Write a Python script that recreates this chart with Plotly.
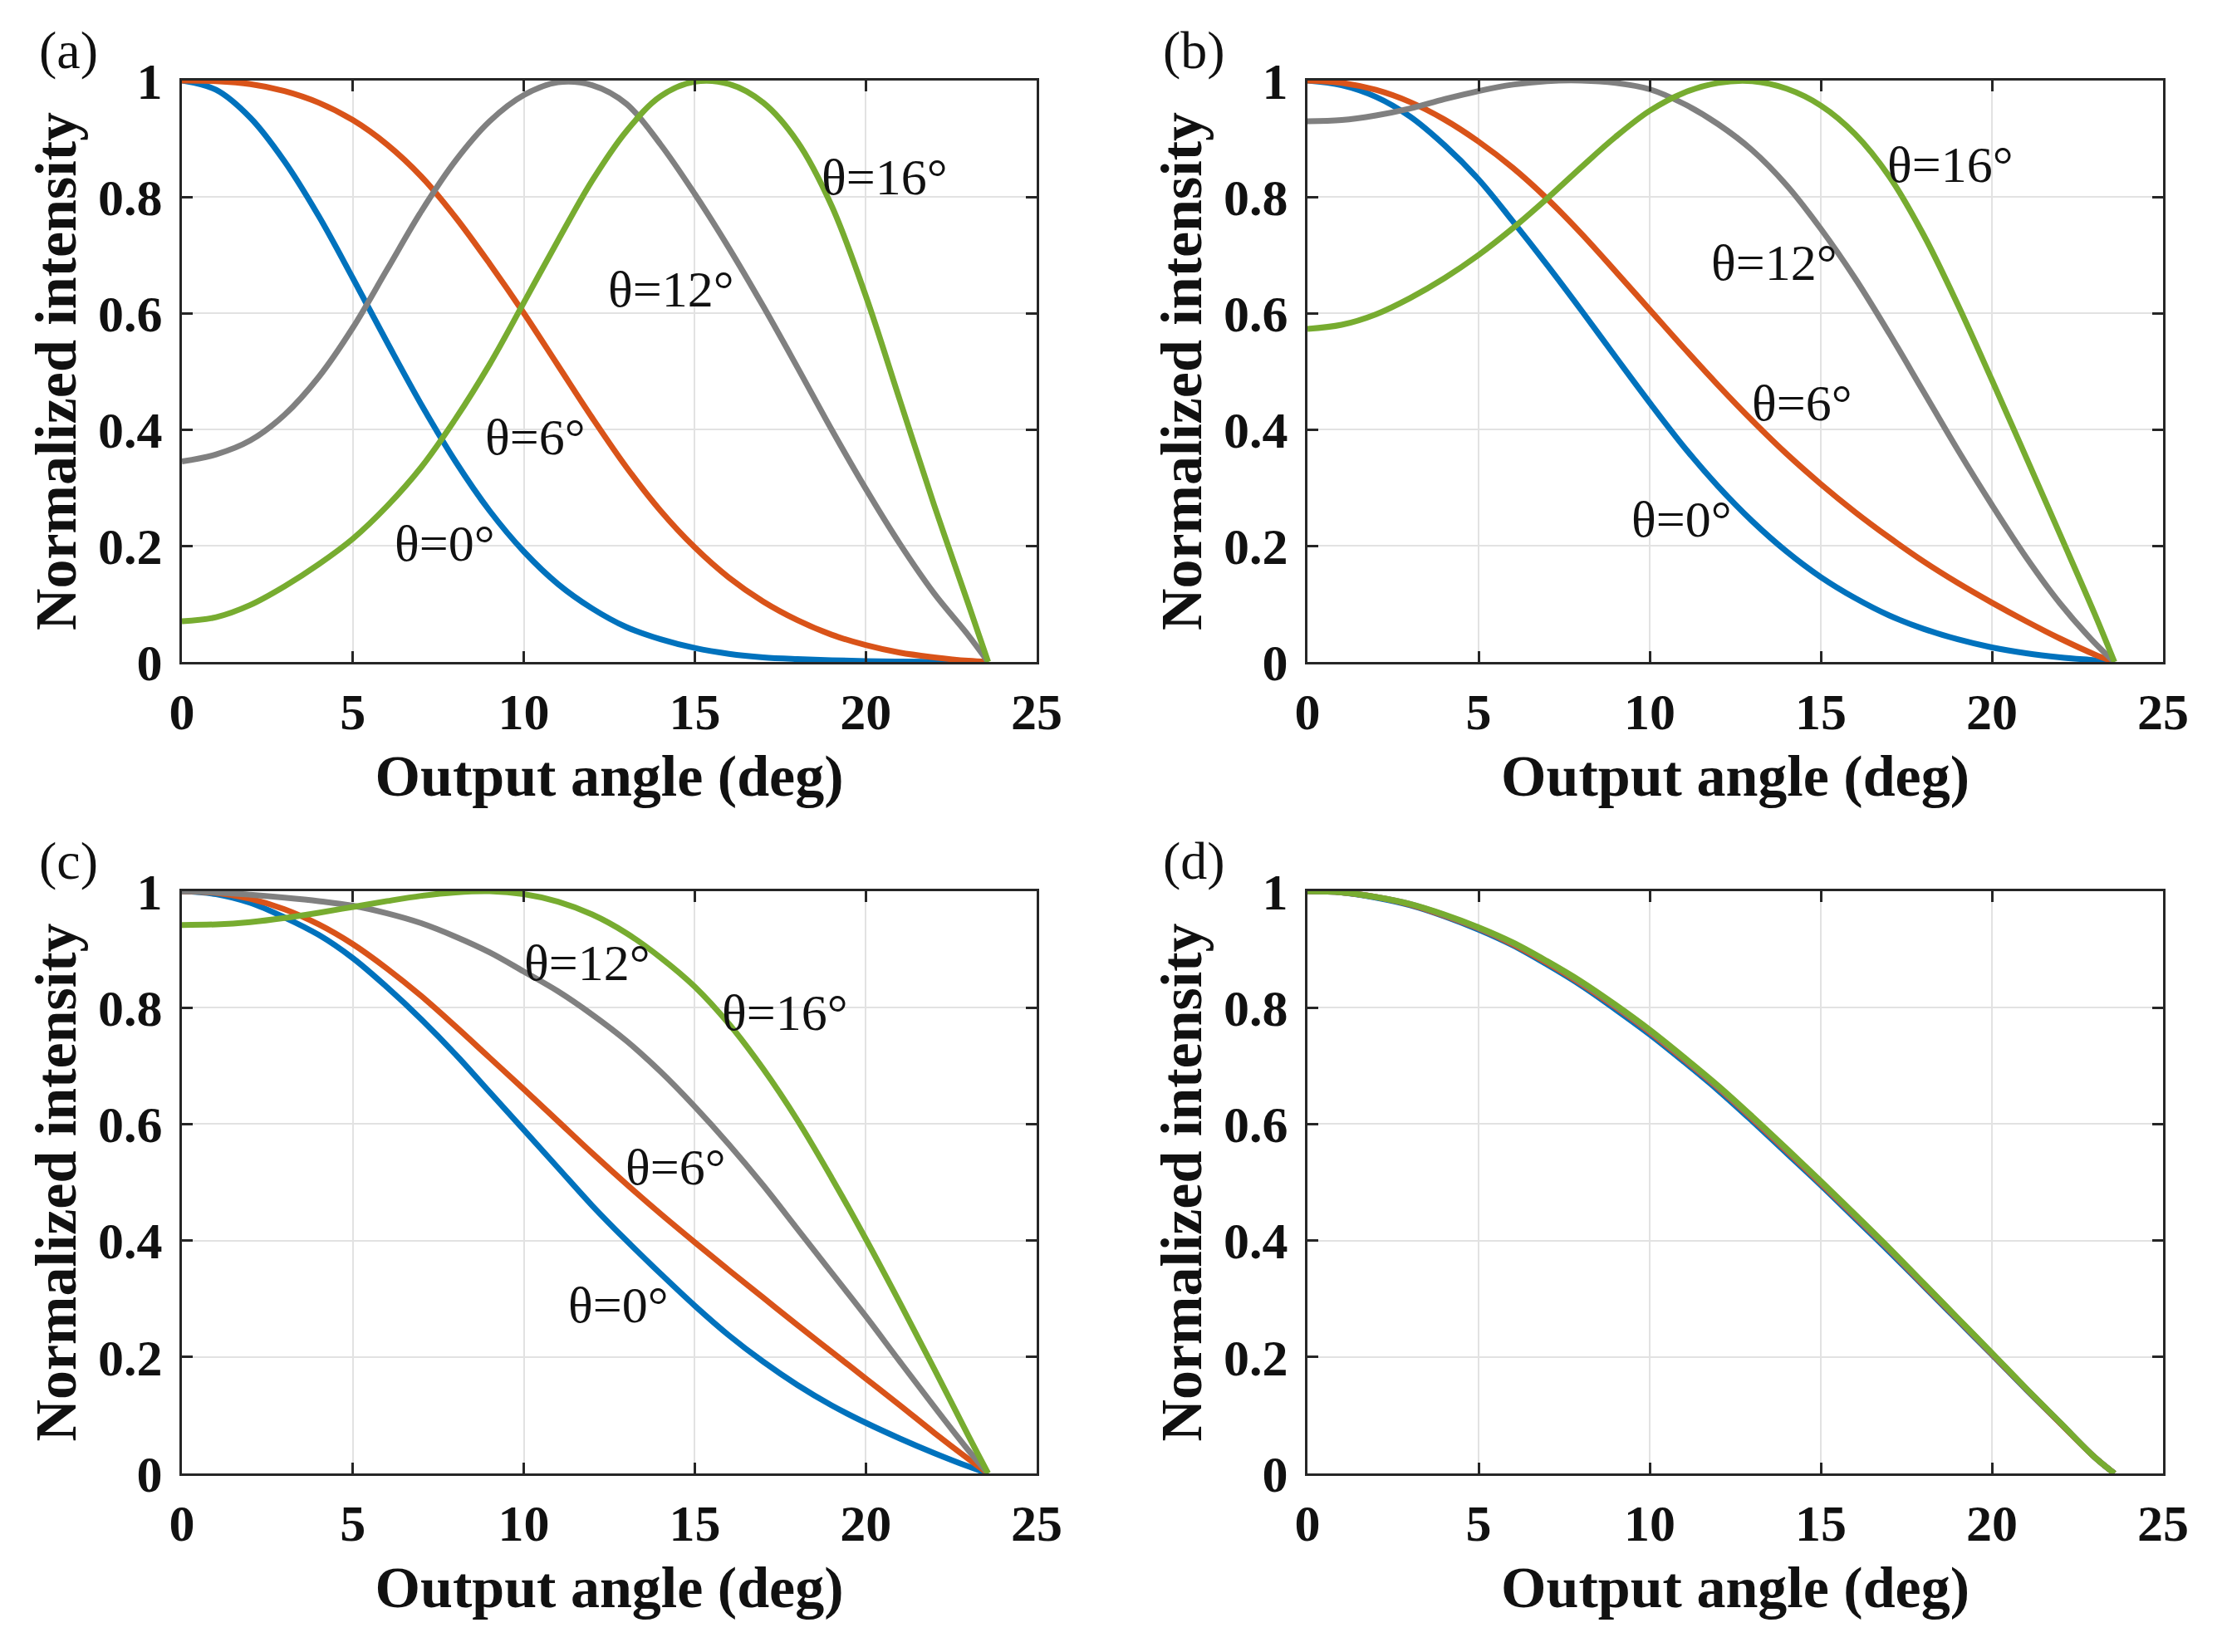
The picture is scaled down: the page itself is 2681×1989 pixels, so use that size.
import plotly.graph_objects as go

W, H = 2681, 1989

# ---------------- data ----------------
x_deg = [0, 1, 2, 3, 4, 5, 6, 7, 8, 9, 10, 11, 12, 13, 14, 15, 16, 17, 18, 19, 20, 21, 22, 23, 23.58]
series_names = ["θ=0°", "θ=6°", "θ=12°", "θ=16°"]

# panel (a)
a_t0 = [1.0, 0.984, 0.936, 0.861, 0.767, 0.66, 0.55, 0.443, 0.345, 0.26, 0.19, 0.134, 0.092, 0.06, 0.039, 0.024, 0.014, 0.008, 0.005, 0.003, 0.0015, 0.0008, 0.0004, 0.0001, 0.0]
a_t6 = [1.0, 0.999, 0.994, 0.982, 0.962, 0.932, 0.89, 0.835, 0.765, 0.685, 0.60, 0.51, 0.42, 0.335, 0.26, 0.197, 0.145, 0.104, 0.072, 0.047, 0.029, 0.016, 0.008, 0.002, 0.0]
a_t12 = [0.345, 0.357, 0.381, 0.425, 0.49, 0.575, 0.675, 0.775, 0.862, 0.93, 0.975, 0.997, 0.992, 0.96, 0.89, 0.805, 0.712, 0.612, 0.507, 0.40, 0.298, 0.203, 0.118, 0.046, 0.0]
a_t16 = [0.07, 0.077, 0.098, 0.13, 0.168, 0.212, 0.268, 0.335, 0.418, 0.512, 0.618, 0.725, 0.828, 0.913, 0.973, 0.998, 0.994, 0.962, 0.895, 0.785, 0.63, 0.45, 0.27, 0.10, 0.0]

# panel (b)
b_t0 = [1.0, 0.992, 0.972, 0.938, 0.889, 0.83, 0.758, 0.683, 0.605, 0.525, 0.446, 0.37, 0.302, 0.242, 0.19, 0.146, 0.11, 0.08, 0.057, 0.039, 0.025, 0.015, 0.008, 0.003, 0.0]
b_t6 = [1.0, 0.996, 0.984, 0.963, 0.933, 0.895, 0.85, 0.797, 0.737, 0.672, 0.606, 0.54, 0.476, 0.415, 0.358, 0.306, 0.258, 0.214, 0.173, 0.136, 0.102, 0.07, 0.04, 0.013, 0.0]
b_t12 = [0.93, 0.932, 0.94, 0.952, 0.968, 0.982, 0.993, 0.999, 1.0, 0.996, 0.985, 0.96, 0.925, 0.88, 0.82, 0.745, 0.66, 0.565, 0.465, 0.365, 0.27, 0.18, 0.10, 0.033, 0.0]
b_t16 = [0.573, 0.58, 0.598, 0.626, 0.66, 0.70, 0.746, 0.797, 0.851, 0.903, 0.948, 0.979, 0.996, 0.999, 0.986, 0.957, 0.908, 0.835, 0.735, 0.615, 0.485, 0.352, 0.218, 0.083, 0.0]

# panel (c)
c_t0 = [1.0, 0.995, 0.98, 0.955, 0.925, 0.885, 0.835, 0.78, 0.72, 0.655, 0.59, 0.525, 0.46, 0.40, 0.343, 0.288, 0.237, 0.192, 0.152, 0.117, 0.087, 0.06, 0.035, 0.012, 0.0]
c_t6 = [1.0, 0.997, 0.987, 0.969, 0.943, 0.909, 0.867, 0.82, 0.768, 0.714, 0.66, 0.605, 0.55, 0.497, 0.446, 0.397, 0.349, 0.302, 0.255, 0.209, 0.163, 0.117, 0.07, 0.025, 0.0]
c_t12 = [1.0, 0.998, 0.994, 0.989, 0.983, 0.975, 0.962, 0.945, 0.922, 0.895, 0.862, 0.828, 0.788, 0.743, 0.69, 0.63, 0.565, 0.495, 0.42, 0.345, 0.27, 0.192, 0.115, 0.04, 0.0]
c_t16 = [0.942, 0.943, 0.947, 0.954, 0.963, 0.973, 0.983, 0.992, 0.998, 1.0, 0.995, 0.982, 0.96, 0.928, 0.886, 0.836, 0.772, 0.695, 0.607, 0.508, 0.403, 0.293, 0.18, 0.065, 0.0]

# panel (d)
d_t0 = [1.0, 0.998, 0.989, 0.976, 0.957, 0.934, 0.907, 0.874, 0.838, 0.797, 0.754, 0.707, 0.658, 0.605, 0.55, 0.495, 0.438, 0.381, 0.322, 0.263, 0.204, 0.144, 0.086, 0.028, 0.0]
d_t6 = [1.0, 0.998, 0.99, 0.977, 0.958, 0.936, 0.909, 0.877, 0.841, 0.801, 0.758, 0.711, 0.662, 0.609, 0.554, 0.498, 0.441, 0.384, 0.324, 0.265, 0.205, 0.145, 0.086, 0.028, 0.0]
d_t12 = [1.0, 0.998, 0.99, 0.978, 0.959, 0.937, 0.911, 0.879, 0.843, 0.803, 0.760, 0.713, 0.664, 0.611, 0.556, 0.500, 0.443, 0.385, 0.326, 0.266, 0.206, 0.146, 0.087, 0.028, 0.0]
d_t16 = [1.0, 0.998, 0.99, 0.978, 0.96, 0.938, 0.912, 0.88, 0.845, 0.805, 0.762, 0.715, 0.666, 0.613, 0.558, 0.502, 0.445, 0.387, 0.327, 0.267, 0.207, 0.146, 0.087, 0.028, 0.0]

panels = [
    ("(a)", [a_t0, a_t6, a_t12, a_t16]),
    ("(b)", [b_t0, b_t6, b_t12, b_t16]),
    ("(c)", [c_t0, c_t6, c_t12, c_t16]),
    ("(d)", [d_t0, d_t6, d_t12, d_t16]),
]

# curve label positions (data coords) per panel: (text, x, y)
curve_labels = [
    [("θ=16°", 20.55, 0.834), ("θ=12°", 14.3, 0.642), ("θ=6°", 10.32, 0.387), ("θ=0°", 7.68, 0.204)],
    [("θ=16°", 18.77, 0.856), ("θ=12°", 13.64, 0.687), ("θ=6°", 14.43, 0.446), ("θ=0°", 10.93, 0.246)],
    [("θ=12°", 11.84, 0.877), ("θ=16°", 17.62, 0.792), ("θ=6°", 14.43, 0.527), ("θ=0°", 12.76, 0.29)],
    [],
]

x_ticks = [0, 5, 10, 15, 20, 25]
y_ticks = [0, 0.2, 0.4, 0.6, 0.8, 1]
y_ticktext = ["0", "0.2", "0.4", "0.6", "0.8", "1"]

colors = ["#0072BD", "#D95319", "#808080", "#77AC30"]

# ---------------- layout geometry (pixels) ----------------
col_x = [(219, 1248), (1574, 2604)]
row_y = [(97, 797), (1073, 1774)]

FONT = "Liberation Serif, Times New Roman, serif"
AX = "#262626"

fig = go.Figure()
layout = dict(
    width=W, height=H, autosize=False,
    margin=dict(l=0, r=0, t=0, b=0, pad=0, autoexpand=False),
    paper_bgcolor="white", plot_bgcolor="white",
    showlegend=False,
    annotations=[],
)

for i, (tag, ys) in enumerate(panels):
    r, c = divmod(i, 2)
    xs = "" if i == 0 else str(i + 1)
    x0, x1 = col_x[c]
    y0, y1 = row_y[r]
    for k, yv in enumerate(ys):
        fig.add_trace(go.Scatter(
            x=x_deg, y=yv, mode="lines", name=series_names[k],
            line=dict(color=colors[k], width=7, shape="spline", smoothing=1.0),
            xaxis="x" + xs, yaxis="y" + xs, hoverinfo="skip"))
    common = dict(
        showgrid=True, gridcolor="#e2e2e2", gridwidth=2,
        showline=True, linecolor=AX, linewidth=3, mirror="ticks",
        ticks="inside", ticklen=13, tickwidth=3, tickcolor=AX,
        zeroline=False, automargin=False,
        tickfont=dict(family=FONT, size=62, color="#111111", weight="bold"),
    )
    layout["xaxis" + xs] = dict(
        common, domain=[x0 / W, x1 / W], range=[0, 25], tickvals=x_ticks,
        anchor="y" + xs, ticklabelstandoff=4,
        title=dict(text="Output angle (deg)", standoff=19,
                   font=dict(family=FONT, size=70, color="#111111", weight="bold")),
    )
    layout["yaxis" + xs] = dict(
        common, domain=[1 - y1 / H, 1 - y0 / H], range=[0, 1],
        tickvals=y_ticks, ticktext=y_ticktext,
        anchor="x" + xs, ticklabelstandoff=8,
        title=dict(text="Normalized intensity", standoff=4,
                   font=dict(family=FONT, size=70, color="#111111", weight="bold")),
    )
    layout["annotations"].append(dict(
        text=tag, xref="paper", yref="paper",
        x=(82 + c * 1355) / W, y=1 - (60 + r * 976) / H,
        xanchor="center", yanchor="middle", showarrow=False,
        font=dict(family=FONT, size=64, color="#111111")))
    for (txt, lx, ly) in curve_labels[i]:
        layout["annotations"].append(dict(
            text=txt, xref="x" + xs, yref="y" + xs, x=lx, y=ly,
            xanchor="center", yanchor="middle", showarrow=False,
            font=dict(family=FONT, size=62, color="#111111")))

fig.update_layout(layout)
fig.write_html("out.html")
